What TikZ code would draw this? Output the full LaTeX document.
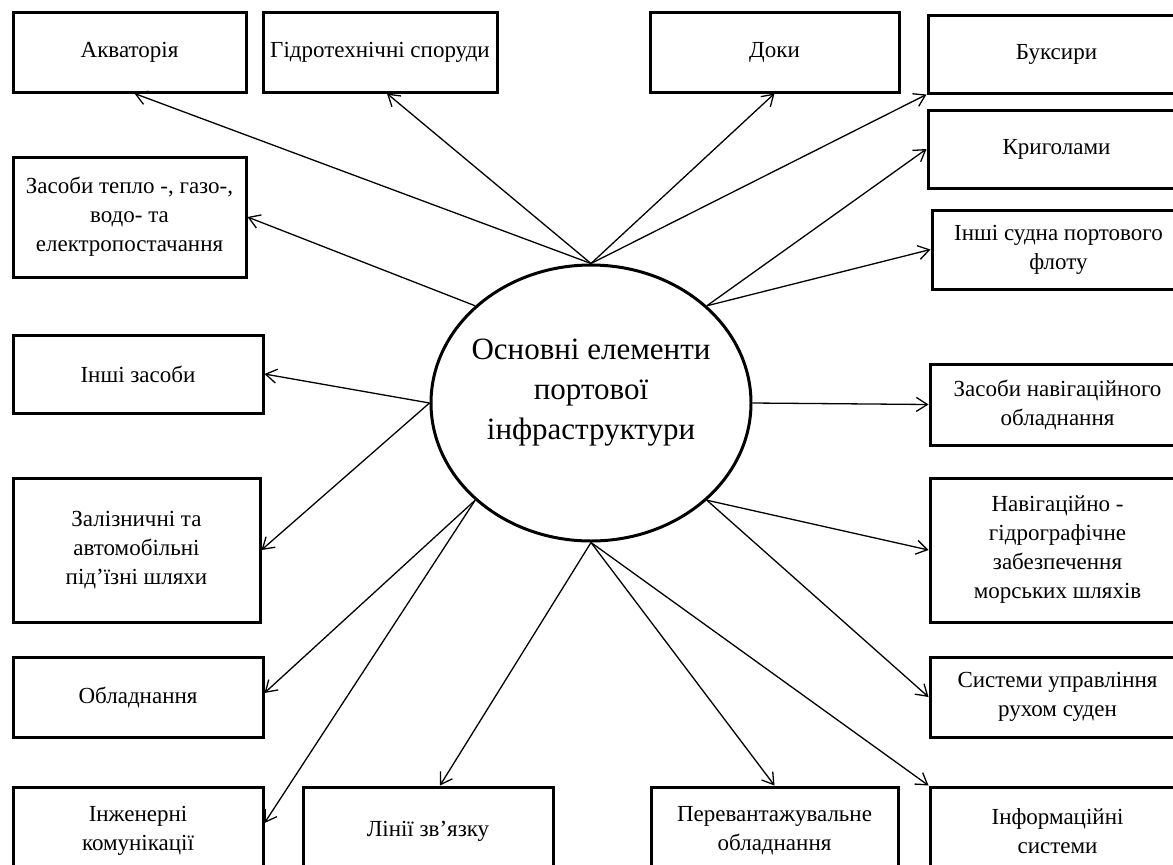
\documentclass[tikz,border=0pt]{standalone}
\usepackage{fontspec}
\setmainfont{Liberation Serif}
\usetikzlibrary{arrows.meta, shapes.geometric}

\begin{document}
\begin{tikzpicture}[
        x=1pt, y=-1pt,
        elembox/.style={rectangle, draw, line width=3pt, align=center, inner sep=2pt, font=\fontsize{23}{29}\selectfont},
        corenode/.style={ellipse, draw, line width=3pt, minimum width=320pt, minimum height=276pt, inner sep=0pt},
        linkarrow/.style={-{Straight Barb[length=11pt, width=14pt]}, line width=1.3pt}
    ]
        \useasboundingbox (0,0) rectangle (1173,865);

        % Central node
        \node[corenode, label={[font=\fontsize{31}{40}\selectfont, align=center, yshift=10pt]center:Основні елементи\\портової\\інфраструктури}] (core) at (591,403) {};

        % Top row
        \node[elembox, minimum width=233pt, minimum height=80pt] (akv) at (129.5,52) {Акваторія};
        \node[elembox, minimum width=234pt, minimum height=80pt] (gidro) at (380,52) {Гідротехнічні споруди};
        \node[elembox, minimum width=249pt, minimum height=80pt] (doky) at (774.5,52) {Доки};

        % Left column
        \node[elembox, minimum width=233pt, minimum height=120pt] (tep) at (129.5,217) {Засоби тепло -, газо-,\\водо- та\\електропостачання};
        \node[elembox, minimum width=250pt, minimum height=78pt] (insh) at (138,374) {Інші засоби};
        \node[elembox, minimum width=247pt, minimum height=144pt] (zal) at (136.5,550) {Залізничні та\\автомобільні\\під’їзні шляхи};
        \node[elembox, minimum width=250pt, minimum height=80pt] (obl) at (138,697) {Обладнання};

        % Bottom row
        \node[elembox, minimum width=250pt, minimum height=88pt] (inzh) at (138,831) {Інженерні\\комунікації};
        \node[elembox, minimum width=250pt, minimum height=88pt] (linii) at (428,831) {Лінії зв’язку};
        \node[elembox, minimum width=247pt, minimum height=88pt] (perev) at (774.5,831) {Перевантажувальне\\обладнання};

        % Right column
        \node[elembox, minimum width=257pt, minimum height=78pt] (buks) at (1056.5,54) {Буксири};
        \node[elembox, minimum width=257pt, minimum height=78pt] (kryg) at (1056.5,149) {Криголами};
        \node[elembox, minimum width=253pt, minimum height=79pt] (inshs) at (1058.5,249.5) {Інші судна портового\\флоту};
        \node[elembox, minimum width=255pt, minimum height=81pt] (navob) at (1057.5,404.5) {Засоби навігаційного\\обладнання};
        \node[elembox, minimum width=255pt, minimum height=144pt] (navhydro) at (1057.5,550) {Навігаційно -\\гідрографічне\\забезпечення\\морських шляхів};
        \node[elembox, minimum width=255pt, minimum height=80pt] (syst) at (1057.5,697) {Системи управління\\рухом суден};
        \node[elembox, minimum width=255pt, minimum height=88pt] (inform) at (1057.5,831) {Інформаційні\\системи};

        % Arrows
        \draw[linkarrow] (core.north) -- ([xshift=5pt]akv.south);
        \draw[linkarrow] (core.north) -- ([xshift=7pt]gidro.south);
        \draw[linkarrow] (core.north) -- (doky.south);
        \draw[linkarrow] (core.north) -- (buks.south west);
        \draw[linkarrow] (core.140) -- (tep.east);
        \draw[linkarrow] (core.40) -- (kryg.west);
        \draw[linkarrow] (core.40) -- (inshs.west);
        \draw[linkarrow] (core.west) -- (insh.east);
        \draw[linkarrow] (core.west) -- (zal.east);
        \draw[linkarrow] (core.east) -- (navob.west);
        \draw[linkarrow] (core.-40) -- (navhydro.west);
        \draw[linkarrow] (core.-40) -- (syst.west);
        \draw[linkarrow] (core.220) -- ([yshift=4pt]obl.east);
        \draw[linkarrow] (core.220) -- ([yshift=8pt]inzh.east);
        \draw[linkarrow] (core.south) -- ([xshift=12pt]linii.north);
        \draw[linkarrow] (core.south) -- (perev.north);
        \draw[linkarrow] (core.south) -- (inform.north west);
    \end{tikzpicture}
\end{document}
